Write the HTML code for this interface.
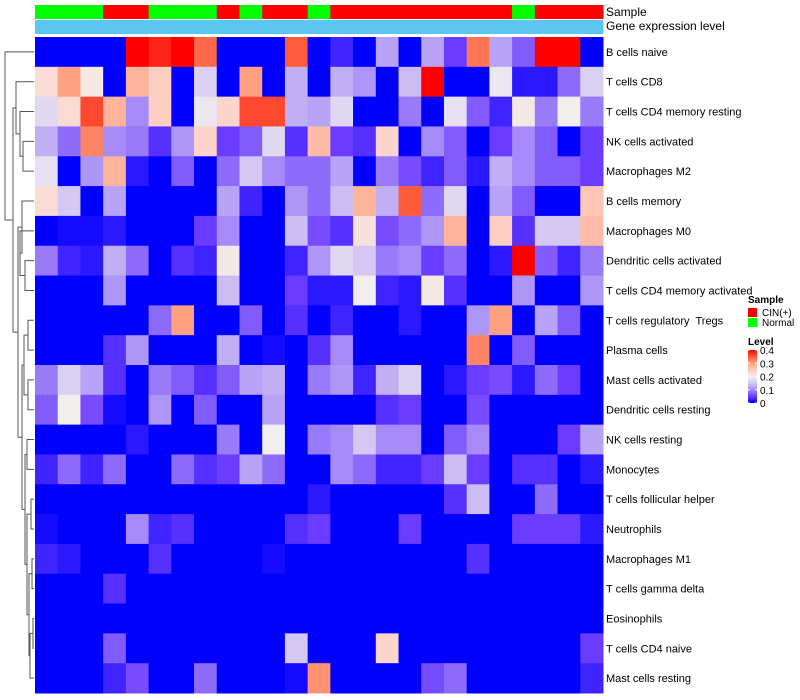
<!DOCTYPE html>
<html><head><meta charset="utf-8"><style>
html,body{margin:0;padding:0;background:#fff;}
svg{display:block;font-family:"Liberation Sans",sans-serif;}
text{white-space:pre;}
</style></head><body>
<svg id="chart" width="800" height="700" viewBox="0 0 800 700"></svg>
<script>
const rowLabels=["B cells naive","T cells CD8","T cells CD4 memory resting","NK cells activated","Macrophages M2","B cells memory","Macrophages M0","Dendritic cells activated","T cells CD4 memory activated","T cells regulatory  Tregs","Plasma cells","Mast cells activated","Dendritic cells resting","NK cells resting","Monocytes","T cells follicular helper","Neutrophils","Macrophages M1","T cells gamma delta","Eosinophils","T cells CD4 naive","Mast cells resting"];
const sampleGroups=["N","N","N","C","C","N","N","N","C","N","C","C","N","C","C","C","C","C","C","C","C","N","C","C","C"];
const r0=[0,0,0,0,.4,.38,.4,.34,0,0,0,.35,0,.03,0,.12,0,.12,.05,.33,.12,.07,.4,.4,0];
const r1=[.23,.3,.21,0,.28,.25,0,.16,0,.3,0,.13,0,.13,.11,0,.14,.4,0,0,.19,.02,.02,.08,.16];
const r2=[.17,.23,.36,.28,.1,.25,0,.19,.24,.36,.36,.13,.12,.17,0,0,.09,0,.18,.07,.03,.21,.09,.2,.09];
const r3=[.13,.08,.32,.1,.09,.04,.11,.24,.05,.07,.17,.04,.27,.05,.04,.24,0,.1,.07,0,.05,.1,.07,0,.05];
const r4=[.18,0,.11,.28,.02,0,.07,0,.08,.15,.1,.08,.08,.12,0,.09,.06,.03,.07,.02,.13,.1,.07,.07,.05];
const r5=[.23,.15,0,.12,0,0,0,0,.12,.03,0,.11,.08,.14,.28,.13,.35,.08,.17,0,.12,.07,0,0,.26];
const r6=[0,.01,.01,.02,0,0,0,.05,.1,0,0,.14,.06,.04,.22,.06,.08,.11,.28,0,.25,.04,.15,.15,.27];
const r7=[.09,.03,.02,.13,.08,0,.04,.03,.21,0,0,.03,.11,.17,.15,.09,.1,.05,.08,0,.02,.4,.07,.03,.09];
const r8=[0,0,0,.11,0,0,0,0,.14,0,0,.05,.02,.02,.2,.03,.02,.21,.04,0,0,.11,0,0,.11];
const r9=[0,0,0,0,0,.08,.3,0,0,.07,0,.04,0,.03,0,0,.02,0,0,.11,.3,0,.12,.07,0];
const r10=[0,0,0,.04,.11,0,0,0,.13,0,.01,0,.04,.1,0,0,0,0,0,.32,0,.07,0,0,0];
const r11=[.09,.16,.12,.04,0,.09,.07,.04,.07,.12,.13,0,.09,.11,.03,.13,.16,0,.02,.05,.06,.02,.08,.05,0];
const r12=[.07,.2,.06,.01,0,.11,0,.07,0,0,.12,0,0,0,0,.04,.05,0,0,.06,0,0,0,0,0];
const r13=[0,0,0,0,.02,0,0,0,.09,0,.2,0,.09,.1,.15,.1,.1,0,.07,.1,0,0,0,.05,.12];
const r14=[.03,.08,.03,.08,0,0,.08,.04,.05,.12,.08,0,0,.1,.08,.03,.03,.05,.14,.05,0,.04,.04,0,.02];
const r15=[0,0,0,0,0,0,0,0,0,0,0,0,.02,0,0,0,0,0,.04,.14,0,0,.08,0,0];
const r16=[.01,0,0,0,.1,.03,.04,0,0,0,0,.04,.05,0,0,0,.05,0,0,0,0,.05,.05,.05,.02];
const r17=[.03,.02,0,0,0,.04,0,0,0,0,.01,0,0,0,0,0,0,0,0,.04,0,0,0,0,0];
const r18=[0,0,0,.04,0,0,0,0,0,0,0,0,0,0,0,0,0,0,0,0,0,0,0,0,0];
const r19=[0,0,0,0,0,0,0,0,0,0,0,0,0,0,0,0,0,0,0,0,0,0,0,0,0];
const r20=[0,0,0,.07,0,0,0,0,0,0,0,.15,0,0,0,.24,0,0,0,0,0,0,0,0,.05];
const r21=[0,0,0,.03,.06,0,0,.08,0,0,0,.01,.31,0,0,0,0,.06,.08,0,0,0,0,0,.03];
const values=[r0,r1,r2,r3,r4,r5,r6,r7,r8,r9,r10,r11,r12,r13,r14,r15,r16,r17,r18,r19,r20,r21];
const legendTicks=[0,0.1,0.2,0.3,0.4];
const merges=[[3,4,23],[2,"m0",20],[1,"m1",16],[7,8,25],[6,"m3",20],[5,"m4",22],[9,10,28],[11,12,28],["m6","m7",24],[13,14,27],[15,16,31],[17,18,32],[19,20,33],["m12",21,30],["m11","m13",29],["m10","m14",27],["m9","m15",25],["m8","m16",22],["m5","m17",18],["m2","m18",13],[0,"m19",5]];

const NS="http://www.w3.org/2000/svg";
const svg=document.getElementById("chart");
const HX=35,HY=37,HW=568,HH=656;
const nC=sampleGroups.length,nR=rowLabels.length;
const cw=HW/nC,rh=HH/nR;
const xPos=c=>HX+c*cw, yPos=r=>HY+r*rh;
const stops=[[0,[0,0,255]],[0.05,[106,60,255]],[0.1,[165,138,248]],[0.15,[212,200,242]],[0.2,[242,238,238]],[0.25,[253,207,195]],[0.3,[255,160,128]],[0.35,[255,90,60]],[0.4,[255,0,0]]];
function col(v){v=Math.max(0,Math.min(0.4,v));for(let i=1;i<stops.length;i++){if(v<=stops[i][0]){const [a,ca]=stops[i-1],[b,cb]=stops[i];const t=(v-a)/(b-a);const c=ca.map((x,k)=>Math.round(x+(cb[k]-x)*t));return `rgb(${c.join(",")})`;}}return "rgb(255,0,0)";}
function mk(tag,attrs){const e=document.createElementNS(NS,tag);for(const k in attrs)e.setAttribute(k,attrs[k]);return e;}

sampleGroups.forEach((g,c)=>{
 const r=mk("rect",{x:xPos(c),y:5,width:cw+0.5,height:14,fill:g==="C"?"#ff0000":"#00ff00"});
 
 
 svg.appendChild(r);
 const r2=mk("rect",{x:xPos(c),y:20,width:cw+0.5,height:14,fill:"#5cc6f2"});
 
 
 svg.appendChild(r2);
});
[["Sample",16],["Gene expression level",30]].forEach(([t,y])=>{
 const e=mk("text",{x:606,y:y,"font-size":12,fill:"#000"});e.textContent=t;
 
 
 svg.appendChild(e);
});
values.forEach((row,r)=>{
 row.forEach((v,c)=>{
  const e=mk("rect",{x:xPos(c),y:yPos(r),width:cw+0.5,height:rh+0.5,fill:col(v)});
  
  
  svg.appendChild(e);
 });
 const t=mk("text",{x:606,y:yPos(r)+rh/2+4,"font-size":11,fill:"#000"});t.textContent=rowLabels[r];
 
 
 svg.appendChild(t);
});
const nodes={};
const getNode=k=>typeof k==="number"?{x:34,y:yPos(k)+rh/2}:nodes[k];
const dg=mk("g",{stroke:"#555","stroke-width":1,fill:"none"});


svg.appendChild(dg);
merges.forEach((m,i)=>{
 const a=getNode(m[0]),b=getNode(m[1]),h=m[2];
 const p=mk("path",{d:`M${a.x},${a.y}H${h}V${b.y}H${b.x}`});
 
 
 dg.appendChild(p);
 nodes["m"+i]={x:h,y:(a.y+b.y)/2};
});
function txt(s,x,y,size,bold,name){const e=mk("text",{x:x,y:y,"font-size":size,"font-weight":bold?"bold":"normal",fill:"#000"});e.textContent=s;svg.appendChild(e);}
txt("Sample",748,303,10,true,"sample-legend-title");
[["#ff0000","CIN(+)",308],["#00ff00","Normal",318]].forEach(([c,l,y])=>{
 const r=mk("rect",{x:748,y:y,width:9,height:9,fill:c});
 
 
 svg.appendChild(r);
 txt(l,762,y+8,10,false,"sample-legend-entry");
});
txt("Level",748,345,10,true,"level-legend-title");
const defs=mk("defs",{});const lg=mk("linearGradient",{id:"lvl",x1:0,y1:1,x2:0,y2:0});
stops.forEach(([v,c])=>{lg.appendChild(mk("stop",{offset:v/0.4,"stop-color":`rgb(${c.join(",")})`}));});
defs.appendChild(lg);svg.appendChild(defs);
const LY0=403,LY1=350;
const gb=mk("rect",{x:748,y:LY1,width:9,height:LY0-LY1,fill:"url(#lvl)"});


svg.appendChild(gb);
legendTicks.forEach(v=>{
 const y=LY0+(LY1-LY0)*v/0.4;
 svg.appendChild(mk("line",{x1:748,x2:750,y1:y,y2:y,stroke:"#fff"}));
 svg.appendChild(mk("line",{x1:755,x2:757,y1:y,y2:y,stroke:"#fff"}));
 txt(String(v),760,y+4,10,false,"level-legend-tick");
});
</script>
</body></html>
